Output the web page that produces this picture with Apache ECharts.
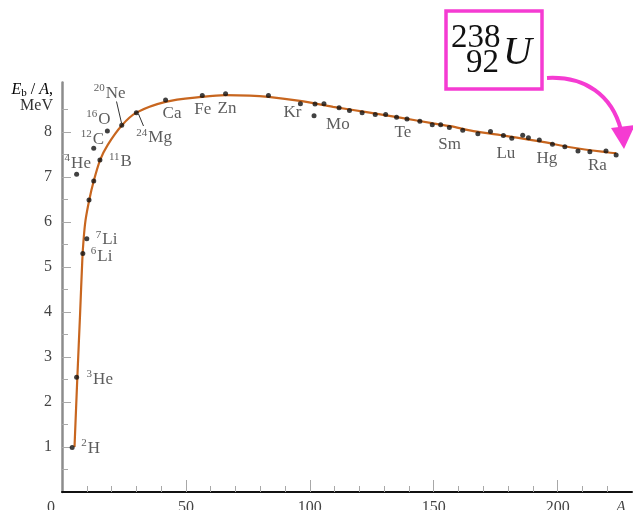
<!DOCTYPE html>
<html>
<head>
<meta charset="utf-8">
<title>Binding energy per nucleon</title>
<script src="https://cdn.jsdelivr.net/npm/echarts@6/dist/echarts.min.js"></script>
<style>html,body{margin:0;padding:0;background:#fff;}</style>
</head>
<body>
<div id="main" style="width:633px;height:510px;"></div>
<script>
// measured nuclei: mass number A, binding energy per nucleon (MeV), tag
var dotA = [4.1, 5.9, 5.9, 8.4, 10.0, 10.9, 12.8, 15.3, 12.8, 18.3, 24.1, 30.0, 41.8, 56.6, 66.0,
    83.3, 96.2, 102.1, 101.7, 105.7, 111.8, 116.0, 121.1, 126.4, 130.6, 135.0, 139.2, 144.4, 149.4, 152.8,
    156.3, 161.7, 167.8, 172.9, 178.1, 181.5, 185.9, 188.2, 192.6, 197.9, 202.9, 208.2, 213.0, 219.5, 223.6];
var dotE = [0.99, 2.55, 7.06, 5.30, 5.63, 6.49, 6.91, 7.38, 7.64, 8.02, 8.15, 8.43, 8.71, 8.81, 8.85,
    8.81, 8.63, 8.62, 8.36, 8.63, 8.54, 8.48, 8.43, 8.39, 8.39, 8.33, 8.29, 8.24, 8.16, 8.16,
    8.10, 8.04, 7.96, 8.01, 7.92, 7.86, 7.93, 7.87, 7.82, 7.73, 7.67, 7.58, 7.56, 7.58, 7.49];
var dotTag = ['2H', '3He', '4He', '6Li', '7Li', '', '', '11B', '12C', '16O', '20Ne', '24Mg', 'Ca', 'Fe', 'Zn',
    '', 'Kr', '', 'Mo', '', '', '', '', '', '', 'Te', '', '', '', '',
    'Sm', '', '', '', 'Lu', '', '', '', '', 'Hg', '', '', '', 'Ra', ''];

// smooth trend curve
var curveA = [5.05, 6.2, 7.3, 8.2, 8.7, 9.5, 11.0, 12.8, 15.4, 18.4, 24.2, 30.0, 41.8, 56.6, 66.0,
    75.8, 83.3, 96.0, 109.4, 122.9, 136.4, 149.8, 156.6, 166.0, 179.5, 192.9, 206.4, 219.9, 223.6];
var curveE = [1.0, 2.56, 3.96, 5.16, 5.6, 6.04, 6.49, 6.91, 7.38, 7.71, 8.15, 8.43, 8.67, 8.78, 8.82,
    8.81, 8.78, 8.69, 8.56, 8.44, 8.32, 8.19, 8.13, 8.02, 7.91, 7.79, 7.65, 7.55, 7.53];

var yLabels = [1, 2, 3, 4, 5, 6, 7, 8];
var yMinor = [0.5, 1.5, 2.5, 3.5, 4.5, 5.5, 6.5, 7.5, 8.5];
var xLabels = [50, 100, 150, 200];
var xMinor = [10, 20, 30, 40, 60, 70, 80, 90, 110, 120, 130, 140, 160, 170, 180, 190, 210, 220];

// label offsets (px) from the dot: left edge of text, vertical centre
var tagOffset = {
    '2H': [9, 0], '3He': [10, 1], '4He': [-12, -12], '6Li': [8, 2], '7Li': [9, 0],
    '11B': [9, 1], '12C': [-13, -10], '16O': [-21, -13], '20Ne': [-28, -33], '24Mg': [0, 24],
    'Ca': [-3, 12], 'Fe': [-8, 13], 'Zn': [-8, 14], 'Kr': [-17, 8], 'Mo': [12, 8],
    'Te': [-2, 14], 'Sm': [-11, 16], 'Lu': [-7, 17], 'Hg': [-16, 13], 'Ra': [-18, 14]
};

var serif = '"Liberation Serif", "DejaVu Serif", serif';
var magenta = '#f53bd2';

var dots = dotA.map(function (a, i) {
    var item = { value: [a, dotE[i]] };
    var tag = dotTag[i];
    if (tag) {
        var m = tag.match(/^(\d*)(.*)$/);
        var txt = (m[1] ? '{s|' + m[1] + '}' : '') + '{n|' + m[2] + '}';
        item.label = {
            show: true,
            formatter: txt,
            position: 'inside',
            align: 'left',
            verticalAlign: 'middle',
            offset: tagOffset[tag]
        };
    }
    return item;
});
var curve = curveA.map(function (a, i) { return [a, curveE[i]]; });

var myChart = echarts.init(document.getElementById('main'));

var tickColor = '#a8a8a8';

myChart.setOption({
    animation: false,
    backgroundColor: '#fff',
    grid: { left: 62, right: 1, top: 82.5, bottom: 18, containLabel: false, outerBoundsMode: 'none' },
    xAxis: [{
        type: 'value', min: 0, max: 230, interval: 50,
        position: 'bottom',
        axisLine: { lineStyle: { color: '#111', width: 2 } },
        axisTick: { inside: true, length: 12, customValues: xLabels, lineStyle: { color: tickColor, width: 1 } },
        axisLabel: { customValues: xLabels, margin: 8, color: '#444', fontFamily: serif, fontSize: 16 },
        splitLine: { show: false }
    }, {
        type: 'value', min: 0, max: 230, interval: 10,
        position: 'bottom', offset: 0,
        axisLine: { show: false },
        axisTick: { inside: true, length: 6, customValues: xMinor, lineStyle: { color: tickColor, width: 1 } },
        axisLabel: { show: false },
        splitLine: { show: false }
    }],
    yAxis: [{
        type: 'value', min: 0, max: 9.1, interval: 1,
        position: 'left',
        axisLine: { show: true, lineStyle: { color: '#8c8c8c', width: 2.5 } },
        axisTick: { show: true, inside: true, length: 9, customValues: yLabels, lineStyle: { color: tickColor, width: 1 } },
        axisLabel: { customValues: yLabels, margin: 10, color: '#444', fontFamily: serif, fontSize: 16 },
        splitLine: { show: false }
    }, {
        type: 'value', min: 0, max: 9.1, interval: 0.5,
        position: 'left', offset: 0,
        axisLine: { show: false },
        axisTick: { show: true, inside: true, length: 6, customValues: yMinor, lineStyle: { color: tickColor, width: 1 } },
        axisLabel: { show: false },
        splitLine: { show: false }
    }],
    series: [{
        type: 'line',
        data: curve,
        smooth: 0.3,
        showSymbol: false,
        lineStyle: { color: '#c8661f', width: 2.2 },
        z: 2
    }, {
        type: 'scatter',
        data: dots,
        symbolSize: 5,
        itemStyle: { color: '#111' },
        label: {
            color: '#333',
            fontFamily: serif,
            rich: {
                s: { fontSize: 11, lineHeight: 12, verticalAlign: 'top', fontFamily: serif, color: '#333', padding: [0, 1, 0, 0] },
                n: { fontSize: 17, lineHeight: 19, verticalAlign: 'bottom', fontFamily: serif, color: '#333' }
            }
        },
        z: 3
    }],
    graphic: [
        // axis title
        { type: 'text', x: 53, y: 90, style: {
            text: '{i|E}{b|b}{r| / }{i|A}{r|,}', align: 'right', verticalAlign: 'middle',
            rich: {
                i: { fontFamily: serif, fontSize: 16, fontStyle: 'italic', color: '#333' },
                b: { fontFamily: serif, fontSize: 11, color: '#333', verticalAlign: 'bottom', padding: [6, 0, 0, 0] },
                r: { fontFamily: serif, fontSize: 16, color: '#333' }
            } } },
        { type: 'text', x: 53, y: 106, style: { text: 'MeV', align: 'right', verticalAlign: 'middle',
            font: '16px ' + serif, fill: '#333' } },
        // corner 0 and A
        { type: 'text', x: 51, y: 508, style: { text: '0', align: 'center', verticalAlign: 'middle',
            font: '16px ' + serif, fill: '#444' } },
        { type: 'text', x: 621, y: 508, style: { text: 'A', align: 'center', verticalAlign: 'middle',
            font: 'italic 16px ' + serif, fill: '#444' } },
        // leader lines
        { type: 'line', shape: { x1: 116.5, y1: 101.5, x2: 121.5, y2: 123 }, style: { stroke: '#333', lineWidth: 1 } },
        { type: 'line', shape: { x1: 138.5, y1: 114, x2: 143.5, y2: 126 }, style: { stroke: '#333', lineWidth: 1 } },
        // uranium callout
        { type: 'rect', shape: { x: 446, y: 11, width: 96, height: 78 },
            style: { fill: '#fff', stroke: magenta, lineWidth: 3.5 } },
        { type: 'text', x: 451, y: 38.5, style: { text: '238', align: 'left', verticalAlign: 'middle',
            font: '33px ' + serif, fill: '#111' } },
        { type: 'text', x: 499, y: 63, style: { text: '92', align: 'right', verticalAlign: 'middle',
            font: '33px ' + serif, fill: '#111' } },
        { type: 'text', x: 503, y: 53, style: { text: 'U', align: 'left', verticalAlign: 'middle',
            font: 'italic 40px ' + serif, fill: '#111' } },
        { type: 'bezierCurve', shape: { x1: 547, y1: 78, cpx1: 585, cpy1: 76, cpx2: 612, cpy2: 95, x2: 621, y2: 130 },
            style: { stroke: magenta, lineWidth: 4, fill: null } },
        { type: 'polygon', shape: { points: [[611, 128], [635, 125], [624, 149]] },
            style: { fill: magenta } }
    ]
});
</script>
</body>
</html>
